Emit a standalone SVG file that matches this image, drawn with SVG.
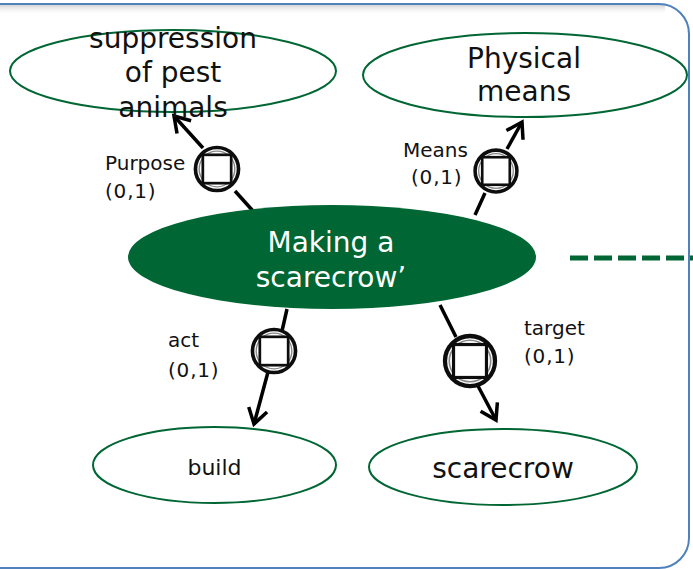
<svg xmlns="http://www.w3.org/2000/svg" width="693" height="569" viewBox="0 0 693 569">
  <style>
    .node { fill: #ffffff; stroke: #006633; stroke-width: 2; }
    .main { fill: #006633; stroke: none; }
    .lbl { font-family: "DejaVu Sans", Verdana, sans-serif; fill: #111111; }
    .big { font-size: 28px; }
    .small { font-size: 20px; }
    .card { letter-spacing: 0.8px; }
    .conn { stroke: #000000; stroke-width: 3.5; fill: none; }
  </style>
  <defs>
    <marker id="arrow" markerUnits="userSpaceOnUse" markerWidth="30" markerHeight="30" viewBox="-20 -15 30 30" refX="0" refY="0" orient="auto">
      <path d="M-15,-9.5 L0,0 L-15,9.5" fill="none" stroke="#000000" stroke-width="3.5" stroke-linejoin="miter"/>
    </marker>
    <linearGradient id="topShade" x1="0" y1="0" x2="0" y2="1">
      <stop offset="0" stop-color="#cfcfcf" stop-opacity="0.9"/>
      <stop offset="1" stop-color="#ffffff" stop-opacity="0"/>
    </linearGradient>
    <filter id="soft" x="-20%" y="-20%" width="140%" height="140%">
      <feGaussianBlur stdDeviation="0.6"/>
    </filter>
    <!-- role marker: ringed circle with inscribed square -->
    <g id="role" filter="url(#soft)">
      <circle r="20.5" fill="#ffffff" stroke="#111111" stroke-width="3.5"/>
      <circle r="17" fill="none" stroke="#888888" stroke-width="1.3"/>
      <rect x="-13.5" y="-13.5" width="27" height="27" fill="#ffffff" stroke="#111111" stroke-width="2.6"/>
    </g>
  </defs>

  <rect width="693" height="569" fill="#ffffff"/>

  <!-- outer frame -->
  <g id="frame">
    <rect x="0" y="5" width="665" height="10" fill="url(#topShade)"/>
    <rect x="-30" y="4" width="719" height="564" rx="30" ry="30" fill="none" stroke="#4f81bd" stroke-width="2"/>
  </g>

  <!-- connectors -->
  <g id="connectors">
    <line class="conn" x1="253" y1="211" x2="235" y2="191"/>
    <line class="conn" x1="203" y1="148" x2="174" y2="116" marker-end="url(#arrow)"/>

    <line class="conn" x1="475" y1="215" x2="485" y2="193"/>
    <line class="conn" x1="507" y1="149" x2="522" y2="122" marker-end="url(#arrow)"/>

    <line class="conn" x1="287" y1="309" x2="282" y2="331"/>
    <line class="conn" x1="268" y1="372" x2="254" y2="424" marker-end="url(#arrow)"/>

    <line class="conn" x1="440" y1="305" x2="456" y2="337"/>
    <line class="conn" x1="478" y1="386" x2="496" y2="420" marker-end="url(#arrow)"/>

    <line x1="570" y1="258" x2="693" y2="258" stroke="#006633" stroke-width="5" stroke-dasharray="18 6"/>
  </g>

  <!-- role markers on the connectors -->
  <g id="role-purpose"><use href="#role" transform="translate(217,169) scale(1.05)"/></g>
  <g id="role-means"><use href="#role" transform="translate(496,171) scale(1.02)"/></g>
  <g id="role-act"><use href="#role" transform="translate(274,351) scale(1.05)"/></g>
  <g id="role-target"><use href="#role" transform="translate(470,361) scale(1.22)"/></g>

  <!-- connector labels -->
  <g id="label-purpose" class="lbl small">
    <text x="105" y="170">Purpose</text>
    <text class="card" x="105" y="198">(0,1)</text>
  </g>
  <g id="label-means" class="lbl small">
    <text x="403" y="157">Means</text>
    <text class="card" x="411" y="184">(0,1)</text>
  </g>
  <g id="label-act" class="lbl small">
    <text x="168" y="347">act</text>
    <text class="card" x="168" y="377">(0,1)</text>
  </g>
  <g id="label-target" class="lbl small">
    <text x="524" y="335">target</text>
    <text class="card" x="524" y="363">(0,1)</text>
  </g>

  <!-- nodes -->
  <g id="node-suppression">
    <ellipse class="node" cx="173" cy="71" rx="163" ry="41"/>
    <text class="lbl big" text-anchor="middle" x="173" y="48">suppression</text>
    <text class="lbl big" text-anchor="middle" x="173" y="82">of pest</text>
    <text class="lbl big" text-anchor="middle" x="173" y="117">animals</text>
  </g>

  <g id="node-physical">
    <ellipse class="node" cx="525" cy="75" rx="162" ry="42"/>
    <text class="lbl big" text-anchor="middle" x="524" y="68">Physical</text>
    <text class="lbl big" text-anchor="middle" x="524" y="101">means</text>
  </g>

  <g id="node-making">
    <ellipse class="main" cx="332" cy="257" rx="204" ry="52"/>
    <text class="lbl big" style="fill:#ffffff" text-anchor="middle" x="331" y="252">Making a</text>
    <text class="lbl big" style="fill:#ffffff" text-anchor="middle" x="331" y="287">scarecrow’</text>
  </g>

  <g id="node-build">
    <ellipse class="node" cx="214.5" cy="465" rx="121.5" ry="38"/>
    <text class="lbl" style="font-size:22px" text-anchor="middle" x="214.5" y="475">build</text>
  </g>

  <g id="node-scarecrow">
    <ellipse class="node" cx="503" cy="467" rx="134" ry="38"/>
    <text class="lbl big" text-anchor="middle" x="503" y="478">scarecrow</text>
  </g>
</svg>
